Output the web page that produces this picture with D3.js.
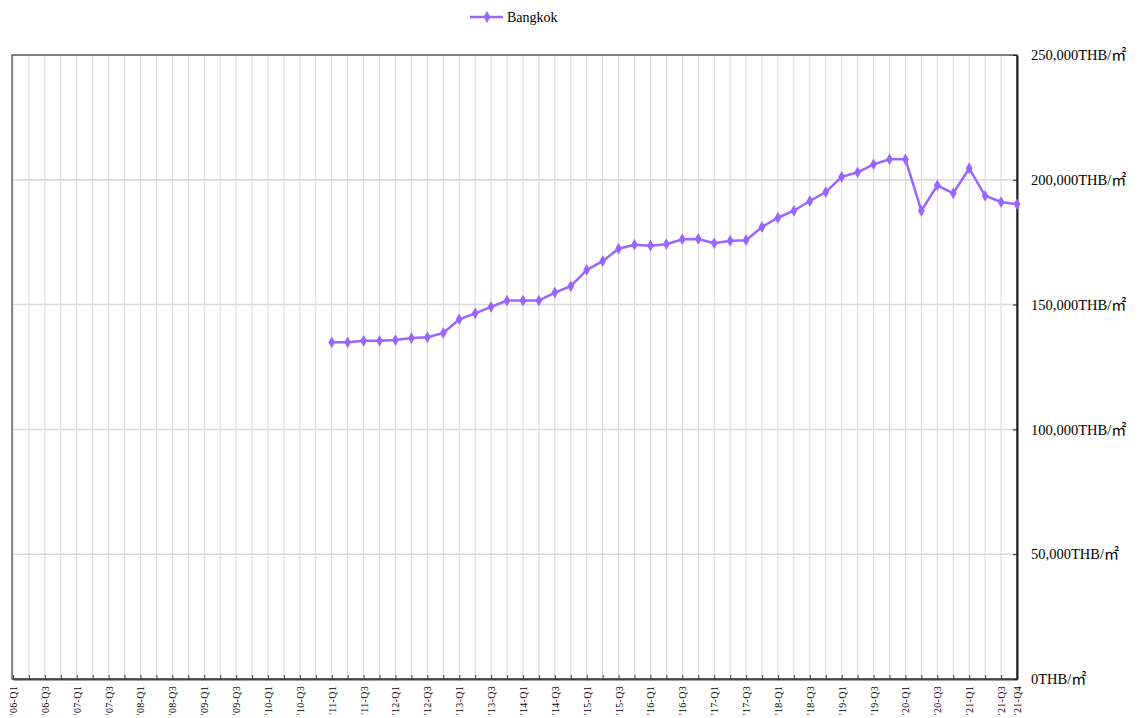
<!DOCTYPE html>
<html>
<head>
<meta charset="utf-8">
<script src="https://cdn.jsdelivr.net/npm/d3@7"></script>
<style>
body{margin:0;background:#fff;}
svg text{font-family:"Liberation Serif","Times New Roman",serif;fill:#000;}
</style>
</head>
<body>
<div id="graph1"></div>
<script>
// quarters '06-Q1 .. '21-Q4
var years = ["06","07","08","09","10","11","12","13","14","15","16","17","18","19","20","21"];
var quarters = [];
years.forEach(function(y){ for(var q=1;q<=4;q++) quarters.push("'"+y+"-Q"+q); });

// Bangkok price, starts at '11-Q1
var bangkok_start = "'11-Q1";
var bangkok = [134900,134900,135500,135500,135800,136600,136900,138600,
  144100,146500,149100,151600,151600,151600,154800,157400,
  163900,167400,172400,174000,173600,174200,176200,176300,
  174600,175600,175800,181100,184800,187600,191500,195100,
  201200,203000,206200,208200,208200,187600,197800,194600,
  204600,193600,191100,190200];

var y_ticks = [0,50000,100000,150000,200000,250000];
var series_name = "Bangkok";
var color = "#9966ff";

function make_line_plot(){
  var left = 12, right = 1017, top = 55, bottom = 679;

  var xScale = d3.scalePoint().domain(quarters).range([left+1, right]);
  var yScale = d3.scaleLinear().domain([0,250000]).range([bottom, top]);

  var svg = d3.select("#graph1").append("svg")
    .attr("width",1139).attr("height",718);

  // grid
  svg.append("g").selectAll("line").data(quarters).enter().append("line")
    .attr("x1",function(d){return xScale(d)}).attr("x2",function(d){return xScale(d)})
    .attr("y1",top).attr("y2",bottom)
    .attr("stroke","#d9d9d9").attr("stroke-width",1);
  svg.append("g").selectAll("line").data(y_ticks).enter().append("line")
    .attr("x1",left).attr("x2",right)
    .attr("y1",function(d){return yScale(d)}).attr("y2",function(d){return yScale(d)})
    .attr("stroke","#d9d9d9").attr("stroke-width",1.5);

  // frame
  svg.append("rect").attr("x",left).attr("y",top)
    .attr("width",right-left).attr("height",bottom-top)
    .attr("fill","none").attr("stroke","#404040").attr("stroke-width",1.2);

  // x axis
  var xAxis = d3.axisBottom(xScale)
    .tickSizeInner(-4).tickSizeOuter(0)
    .tickFormat(function(d,i){ return (d.slice(-2)=="Q1"||d.slice(-2)=="Q3"||i==quarters.length-1) ? d : ""; });
  var gx = svg.append("g").attr("transform","translate(0,"+bottom+")").call(xAxis);
  gx.select(".domain").attr("stroke","#404040").attr("stroke-width",2);
  gx.selectAll(".tick line").attr("stroke","#404040");
  gx.selectAll("text")
    .attr("transform","rotate(-90)")
    .attr("x",-7).attr("y",0).attr("dy","0.35em")
    .attr("text-anchor","end")
    .style("font-size","10px")
    .style("letter-spacing","0.3px");

  // y axis on right
  var yAxis = d3.axisRight(yScale).tickValues(y_ticks)
    .tickSizeInner(-4).tickSizeOuter(0).tickPadding(14)
    .tickFormat(function(d){ return d3.format(",")(d)+"THB/"; });
  var gy = svg.append("g").attr("transform","translate("+right+",0)").call(yAxis);
  gy.select(".domain").attr("stroke","#202020").attr("stroke-width",2);
  gy.selectAll(".tick line").attr("stroke","#202020");
  gy.selectAll("text").style("font-size","14.5px")
    .append("tspan").style("font-family","'Noto Sans CJK JP'").style("font-size","15px").text("㎡");

  // line
  var offset = quarters.indexOf(bangkok_start);
  var pts = bangkok.map(function(v,i){ return {q:quarters[offset+i], v:v}; });
  var line = d3.line().x(function(d){return xScale(d.q)}).y(function(d){return yScale(d.v)});
  svg.append("path").datum(pts).attr("d",line)
    .attr("fill","none").attr("stroke",color).attr("stroke-width",2.5);
  var sym = d3.symbol().type(d3.symbolDiamond).size(40);
  svg.append("g").selectAll("path").data(pts).enter().append("path")
    .attr("d",sym)
    .attr("transform",function(d){return "translate("+xScale(d.q)+","+yScale(d.v)+")"})
    .attr("fill",color);

  // legend
  var lg = svg.append("g").attr("transform","translate(470,17)");
  lg.append("line").attr("x1",0).attr("x2",33).attr("stroke",color).attr("stroke-width",2.5);
  lg.append("path").attr("d",sym).attr("transform","translate(17,0)").attr("fill",color);
  lg.append("text").attr("x",37).attr("dy","0.35em").style("font-size","14px").text(series_name);
}
make_line_plot();
</script>
</body>
</html>
